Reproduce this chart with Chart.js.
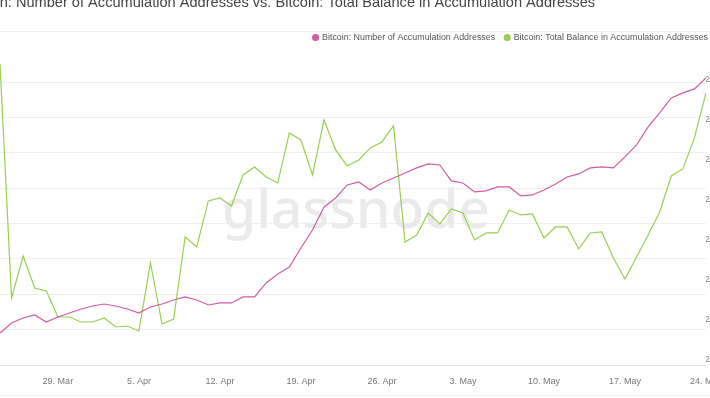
<!DOCTYPE html>
<html>
<head>
<meta charset="utf-8">
<script src="https://cdn.jsdelivr.net/npm/chart.js@4.4.0/dist/chart.umd.min.js"></script>
<style>
  html, body { margin: 0; padding: 0; width: 710px; height: 398px; overflow: hidden; background: #fff; }
  #wrap { position: absolute; left: -36px; top: -14px; width: 754px; height: 412px; }
</style>
</head>
<body>
<div id="wrap"><canvas id="accChart"></canvas></div>
<script>
// Bitcoin accumulation addresses - daily, 24 Mar to 24 May
const dates = [
  '24. Mar', '25. Mar', '26. Mar', '27. Mar', '28. Mar', '29. Mar', '30. Mar', '31. Mar',
  '1. Apr', '2. Apr', '3. Apr', '4. Apr', '5. Apr', '6. Apr', '7. Apr', '8. Apr', '9. Apr', '10. Apr',
  '11. Apr', '12. Apr', '13. Apr', '14. Apr', '15. Apr', '16. Apr', '17. Apr', '18. Apr', '19. Apr', '20. Apr',
  '21. Apr', '22. Apr', '23. Apr', '24. Apr', '25. Apr', '26. Apr', '27. Apr', '28. Apr', '29. Apr', '30. Apr',
  '1. May', '2. May', '3. May', '4. May', '5. May', '6. May', '7. May', '8. May', '9. May', '10. May',
  '11. May', '12. May', '13. May', '14. May', '15. May', '16. May', '17. May', '18. May', '19. May', '20. May',
  '21. May', '22. May', '23. May', '24. May'
];

const tickLabels = ['29. Mar', '5. Apr', '12. Apr', '19. Apr', '26. Apr', '3. May', '10. May', '17. May', '24. May'];

const addressTicks = [560000, 570000, 580000, 590000, 600000, 610000, 620000, 630000, 640000];
const balanceTicks = [2500000, 2520000, 2540000, 2560000, 2580000, 2600000, 2620000, 2640000];

const numAddresses = [
  569060, 571890, 573300, 574150, 572170, 573590, 574720, 575850, 576700, 577260,
  576700, 575850, 574720, 576420, 577260, 578400, 579250, 578400, 576980, 577550,
  577550, 579250, 579250, 583210, 585760, 587740, 593110, 598210, 604720, 607260,
  610940, 611790, 609530, 611510, 612920, 614340, 615760, 616890, 616600, 612080,
  611510, 608960, 609250, 610380, 610380, 607830, 608110, 609530, 611230, 613210,
  614060, 615760, 616040, 615760, 618870, 622260, 627360, 631320, 635570, 636980,
  638110, 641230
];

const totalBalance = [
  2648000, 2531000, 2552000, 2536000, 2534500, 2521500, 2521500, 2519000, 2519000, 2521000,
  2516500, 2517000, 2514500, 2548500, 2518000, 2520500, 2561500, 2556500, 2579500, 2581000,
  2577000, 2592500, 2596500, 2591500, 2588500, 2613500, 2610000, 2592500, 2620000, 2605000,
  2597000, 2600000, 2606000, 2609000, 2617000, 2559000, 2562500, 2573500, 2568000, 2575500,
  2573500, 2560000, 2563500, 2563500, 2575000, 2572500, 2573000, 2561000, 2566500, 2566500,
  2555500, 2563500, 2564000, 2551000, 2540500, 2551500, 2562500, 2574000, 2592000, 2595500,
  2611000, 2633500
];

const PINK = '#d05ca1';
const GREEN = '#99ce50';
const FONT = '"Liberation Sans", Arial, sans-serif';

// watermark + thin frame lines
const decorPlugin = {
  id: 'decor',
  beforeDatasetsDraw(chart) {
    const ctx = chart.ctx;
    ctx.save();
    ctx.font = '500 60px "Noto Sans"';
    const w = ctx.measureText('glassnode').width;
    const size = 60 * 268 / w;
    ctx.font = '500 ' + size + 'px "Noto Sans"';
    ctx.fillStyle = '#eaeaea';
    ctx.textAlign = 'center';
    ctx.textBaseline = 'alphabetic';
    ctx.fillText('glassnode', chart.chartArea.left + 356, 242);
    ctx.restore();
  },
  afterDraw(chart) {
    const ctx = chart.ctx;
    ctx.save();
    ctx.strokeStyle = '#eeeeee';
    ctx.lineWidth = 1;
    ctx.beginPath();
    ctx.moveTo(0, 45.5); ctx.lineTo(chart.width, 45.5);
    ctx.moveTo(0, 409.5); ctx.lineTo(chart.width, 409.5);
    ctx.stroke();
    ctx.restore();
  }
};

new Chart(document.getElementById('accChart').getContext('2d'), {
  type: 'line',
  data: {
    labels: dates,
    datasets: [{
      label: 'Bitcoin: Number of Accumulation Addresses',
      data: numAddresses,
      borderColor: PINK,
      backgroundColor: PINK,
      borderWidth: 1.2,
      pointRadius: 0,
      yAxisID: 'y'
    }, {
      label: 'Bitcoin: Total Balance in Accumulation Addresses',
      data: totalBalance,
      borderColor: GREEN,
      backgroundColor: GREEN,
      borderWidth: 1.2,
      pointRadius: 0,
      yAxisID: 'y1'
    }]
  },
  options: {
    responsive: true,
    maintainAspectRatio: false,
    animation: false,
    layout: { padding: 0, autoPadding: false },
    plugins: {
      title: {
        display: true,
        text: 'Bitcoin: Number of Accumulation Addresses vs. Bitcoin: Total Balance in Accumulation Addresses',
        align: 'start',
        color: '#444',
        font: { family: FONT, size: 14.6, weight: 'normal' },
        padding: { top: 8, bottom: 11.5 }
      },
      legend: {
        position: 'top',
        align: 'end',
        labels: {
          usePointStyle: true,
          pointStyle: 'circle',
          boxWidth: 4,
          boxHeight: 4.2,
          padding: 10,
          color: '#555',
          font: { family: FONT, size: 8.9 }
        }
      },
      tooltip: { enabled: false }
    },
    scales: {
      x: {
        grid: { display: false, drawTicks: true, tickLength: 15 },
        border: { display: true, color: '#e4e4e4' },
        ticks: {
          autoSkip: false,
          maxRotation: 0,
          padding: -4,
          color: '#777',
          font: { family: FONT, size: 9 },
          callback: (v, i) => tickLabels.includes(dates[i]) ? dates[i] : null
        },
        afterFit: s => { s.height = 33; }
      },
      y: {
        position: 'left',
        min: 560000,
        max: 648585,
        grid: { color: '#efefef', drawTicks: false },
        border: { display: false },
        ticks: { autoSkip: false, color: '#888', font: { size: 9 } },
        afterBuildTicks: s => { s.ticks = addressTicks.map(v => ({ value: v })); },
        afterFit: s => { s.width = 36; }
      },
      y1: {
        position: 'right',
        min: 2497500,
        max: 2654000,
        grid: { display: false, drawTicks: false },
        border: { display: false },
        ticks: {
          autoSkip: false,
          padding: -1,
          color: '#888',
          font: { family: FONT, size: 9 },
          callback: v => (v / 1e6).toFixed(2) + 'M'
        },
        afterBuildTicks: s => { s.ticks = balanceTicks.map(v => ({ value: v })); },
        afterFit: s => { s.width = 12; }
      }
    }
  },
  plugins: [decorPlugin]
});
</script>
</body>
</html>
